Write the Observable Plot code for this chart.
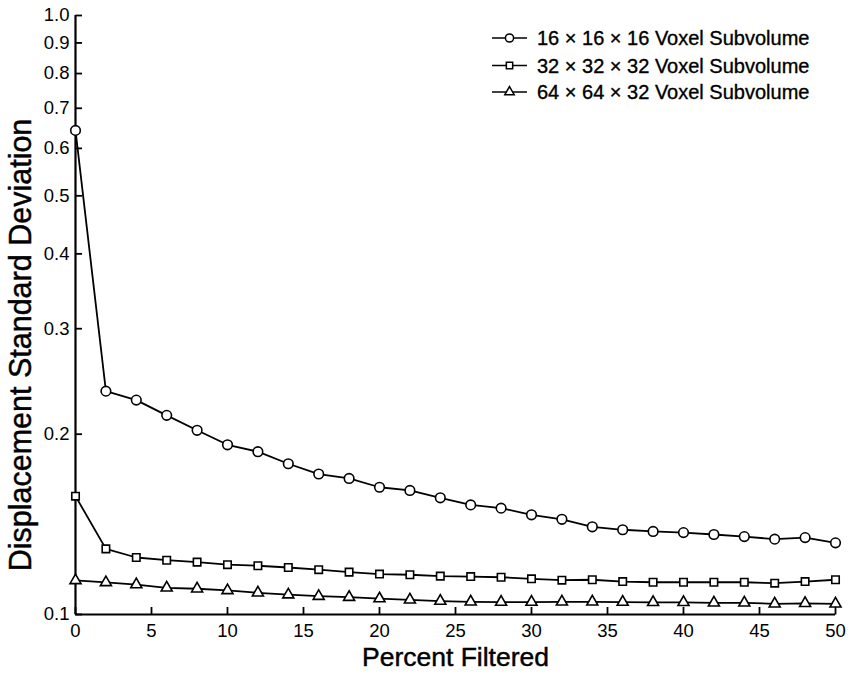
<!DOCTYPE html>
<html>
<head>
<meta charset="utf-8">
<script src="https://cdn.jsdelivr.net/npm/d3@7"></script>
<script src="https://cdn.jsdelivr.net/npm/@observablehq/plot@0.6"></script>
<style>
  html, body { margin: 0; padding: 0; background: #fff; }
  #chart svg { display: block; }
</style>
</head>
<body>
<div id="chart"></div>
<script>
const percentFiltered = [0, 2, 4, 6, 8, 10, 12, 14, 16, 18, 20, 22, 24, 26, 28, 30, 32, 34, 36, 38, 40, 42, 44, 46, 48, 50];
const seriesNames = ["16 × 16 × 16 Voxel Subvolume", "32 × 32 × 32 Voxel Subvolume", "64 × 64 × 32 Voxel Subvolume"];
const seriesSymbols = ["circle", "square", "triangle"];
const sub16 = [0.643, 0.236, 0.228, 0.215, 0.203, 0.192, 0.187, 0.1785, 0.1716, 0.1687, 0.1631, 0.1611, 0.1566, 0.1524, 0.1505, 0.1467, 0.1442, 0.1401, 0.1385, 0.1376, 0.1370, 0.1360, 0.1349, 0.1336, 0.1344, 0.1317];
const sub32 = [0.1576, 0.1287, 0.1245, 0.1232, 0.1223, 0.1211, 0.1206, 0.1198, 0.1188, 0.1177, 0.1168, 0.1165, 0.1159, 0.1157, 0.1154, 0.1147, 0.1141, 0.1143, 0.1135, 0.1132, 0.1132, 0.1132, 0.1132, 0.1128, 0.1135, 0.1143];
const sub64 = [0.1140, 0.1131, 0.1122, 0.1108, 0.1104, 0.1097, 0.1087, 0.1079, 0.1073, 0.1069, 0.1063, 0.1058, 0.1053, 0.1050, 0.1049, 0.1049, 0.1050, 0.1050, 0.1049, 0.1048, 0.1048, 0.1046, 0.1046, 0.1042, 0.1044, 0.1042];
const xTicks = [0, 5, 10, 15, 20, 25, 30, 35, 40, 45, 50];
const yTicks = [0.1, 0.2, 0.3, 0.4, 0.5, 0.6, 0.7, 0.8, 0.9, 1.0];
const xLabel = "Percent Filtered";
const yLabel = "Displacement Standard Deviation";

const seriesValues = [sub16, sub32, sub64];
const rows = [];
seriesValues.forEach((vals, s) => {
  vals.forEach((v, i) => rows.push({x: percentFiltered[i], y: v, series: seriesNames[s], symbol: seriesSymbols[s]}));
});

const FONT = "'Liberation Sans', Arial, Helvetica, sans-serif";
const symbolR = {circle: 4.8, square: 4.2, triangle: 4.1};

// inward tick shapes, placed by the plot's own scales
const tickUp = {draw(ctx) { ctx.moveTo(0, 0); ctx.lineTo(0, -7.5); }};
const tickRight = {draw(ctx) { ctx.moveTo(0, 0); ctx.lineTo(6.5, 0); }};

function legendMark() {
  const g = d3.create("svg:g").attr("font-family", FONT).attr("font-size", 20).attr("text-anchor", "start");
  const d3sym = {circle: d3.symbolCircle, square: d3.symbolSquare, triangle: d3.symbolTriangle};
  const ys = [38, 65.5, 92];
  seriesNames.forEach((name, i) => {
    const y = ys[i];
    g.append("line").attr("x1", 492).attr("x2", 527).attr("y1", y).attr("y2", y)
      .attr("stroke", "black").attr("stroke-width", 1.7);
    const r = symbolR[seriesSymbols[i]] * 0.85;
    g.append("path")
      .attr("d", d3.symbol(d3sym[seriesSymbols[i]], Math.PI * r * r)())
      .attr("transform", `translate(509.5,${y})`)
      .attr("fill", "white").attr("stroke", "black").attr("stroke-width", 1.5);
    g.append("text").attr("x", 537).attr("y", y).attr("dy", "0.35em")
      .attr("fill", "black").attr("stroke", "black").attr("stroke-width", 0.35).text(name);
  });
  return g.node();
}

const marks = [
  Plot.ruleX([0], {stroke: "black", strokeWidth: 2.2}),
  Plot.ruleY([0.1], {stroke: "black", strokeWidth: 2.2}),
  Plot.dot(xTicks, {x: d => d, y: () => yTicks[0], symbol: tickUp, stroke: "black", strokeWidth: 1.8, fill: "none"}),
  Plot.dot(yTicks, {x: () => xTicks[0], y: d => d, symbol: tickRight, stroke: "black", strokeWidth: 1.8, fill: "none"}),
  Plot.axisX(xTicks, {tickSize: 0, tickPadding: 9.5, fontSize: 18.5, label: null}),
  Plot.axisY(yTicks, {tickSize: 0, tickPadding: 6, fontSize: 18.5, tickFormat: d3.format(".1f"), label: null}),
  Plot.line(rows, {x: "x", y: "y", z: "series", stroke: "black", strokeWidth: 1.8}),
];
seriesSymbols.forEach((sym) => {
  marks.push(Plot.dot(rows.filter(d => d.symbol === sym), {x: "x", y: "y", symbol: () => sym, r: symbolR[sym], stroke: "black", fill: "white", strokeWidth: 1.6}));
});
marks.push(
  Plot.text([xLabel], {frameAnchor: "bottom", dy: 43, fontSize: 26.5, textAnchor: "middle", lineAnchor: "middle", stroke: "black", strokeWidth: 0.45, fill: "black"}),
  Plot.text([yLabel], {frameAnchor: "left", rotate: -90, dx: -54, dy: 30, fontSize: 30.5, textAnchor: "middle", lineAnchor: "middle", stroke: "black", strokeWidth: 0.45, fill: "black"}),
  legendMark
);

const chart = Plot.plot({
  width: 849,
  height: 673,
  marginLeft: 75,
  marginRight: 14,
  marginTop: 15,
  marginBottom: 59,
  style: {fontFamily: FONT, color: "black", background: "white", overflow: "visible"},
  x: {domain: [0, 50]},
  y: {type: "log", domain: [0.1, 1.0]},
  symbol: {type: "identity"},
  marks
});
document.getElementById("chart").appendChild(chart);
</script>
</body>
</html>
